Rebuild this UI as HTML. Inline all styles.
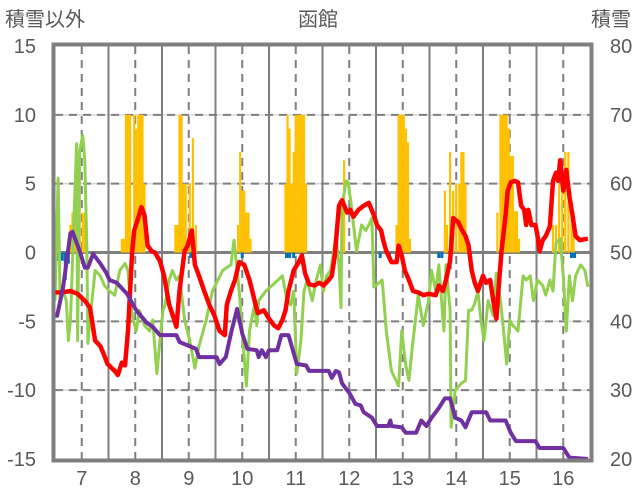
<!DOCTYPE html>
<html><head><meta charset="utf-8"><style>
html,body{margin:0;padding:0;background:#fff;}
svg{display:block;font-family:"Liberation Sans","Noto Sans CJK JP",sans-serif;}
</style></head><body>
<svg id="chart" width="636" height="501" viewBox="0 0 636 501" xmlns="http://www.w3.org/2000/svg">
<g id="grid"></g>
<g id="bars"></g>
<g id="lines"></g>
<g id="axes"></g>
<text x="5" y="26" font-size="20" fill="#595959">積雪以外</text>
<text x="318" y="26" font-size="20" fill="#595959" text-anchor="middle">函館</text>
<text x="631" y="26" font-size="20" fill="#595959" text-anchor="end">積雪</text>
</svg>
<script>
// x values are weeks since start (520 weeks = 10 years, starting mid-year 6)
const leftTicks = [15,10,5,0,-5,-10,-15];
const rightTicks = [80,70,60,50,40,30,20];
const yearLabels = [7,8,9,10,11,12,13,14,15,16];

const redWeeks = [0,7,15,22,29,34,39,44,48,51,58,61,65,68,71,73,75,77,80,84,87,90,94,97,102,106,111,116,118,121,126,129,133,136,140,145,150,155,160,165,167,171,175,179,184,189,194,197,203,208,213,217,221,224,227,232,237,240,243,247,252,257,261,266,269,272,276,279,284,287,290,295,300,305,310,313,317,319,322,327,332,334,337,340,344,348,353,358,363,370,373,377,380,384,387,392,395,399,402,405,408,411,416,419,423,426,429,431,434,438,440,443,447,450,453,456,458,460,463,467,469,471,474,477,481,484,487,489,491,494,497,500,503,506,510,518];
const redValues = [-2.9,-2.9,-2.8,-3.0,-3.5,-4.0,-6.4,-6.8,-7.5,-8.1,-8.6,-8.9,-8.0,-8.2,-5.7,-2.8,0.1,1.6,2.3,3.3,2.7,0.5,0.1,0,-0.6,-1.7,-3.8,-4.9,-5.4,-2.8,0.1,0.5,1.6,-0.9,-1.7,-2.8,-3.8,-4.6,-5.7,-6.0,-3.8,-2.8,-2.0,-0.7,-0.9,-2.0,-3.5,-4.4,-4.2,-4.8,-5.3,-5.5,-4.9,-4.2,-2.8,-1.3,-0.7,-0.2,-1.5,-2.3,-2.4,-2.2,-2.4,-2.0,-1.7,-0.2,3.4,3.8,2.9,3.1,2.6,3.1,3.4,3.6,2.7,2.0,1.6,0.9,0.1,-0.7,-0.7,0.5,-0.2,-1.3,-2.0,-2.8,-2.9,-3.1,-3.0,-3.1,-2.4,-2.8,-2.0,-0.6,2.5,2.2,1.7,1.2,0.5,-1.3,-2.2,-2.8,-1.7,-2.2,-2.0,-3.5,-4.8,-2.8,0.1,2.7,4.5,5.1,5.2,5.1,3.4,3.1,2.0,3.1,2.0,2.0,1.2,0.1,0.9,1.2,1.9,5.2,5.8,5.2,6.7,4.5,6.0,4.1,2.7,1.2,0.9,1.0];

const greenWeeks = [0,3,5,8,11,13,15,16,21,22,24,27,29,31,32,34,39,44,48,53,58,63,68,71,73,76,79,82,87,92,95,99,102,105,107,111,114,118,121,126,131,136,140,147,153,163,171,174,179,186,189,194,196,198,205,211,221,225,229,232,235,239,242,245,250,254,258,261,264,268,273,276,278,279,283,285,288,293,298,302,305,308,310,315,318,322,327,334,337,341,344,347,353,358,363,366,370,373,378,380,384,385,389,395,399,402,405,408,411,414,417,421,426,429,433,436,439,442,445,450,455,458,462,465,469,474,477,481,484,487,491,494,497,500,503,506,511,515,518];
const greenValues = [-3.5,5.4,-3.5,-2.8,-3.5,-6.4,-4.9,-2.8,7.9,-6.4,7.4,8.5,6.7,0.1,-6.6,-4.9,-1.3,-1.7,-2.4,-2.8,-3.1,-1.3,-0.8,-1.3,-3.5,-4.9,-5.7,-4.2,-5.3,-5.7,-4.9,-8.8,-6.4,-4.2,-3.8,-2.0,-1.3,-2.0,-1.7,-4.9,-6.4,-8.4,-6.8,-4.9,-2.8,-1.3,-0.9,0.9,-2.8,-9.7,-5.7,-3.8,-5.3,-3.5,-2.8,-2.4,-1.7,-3.3,-3.8,-2.8,-8.8,-6.4,-2.8,-2.0,-3.5,-2.0,-0.9,-2.8,-1.7,-1.3,1.2,-0.9,-4.0,3.4,5.2,5.1,3.4,0.1,2.0,1.6,2.0,2.5,-2.5,-2.2,-2.0,-5.7,-8.6,-9.7,-5.7,-8.2,-9.3,-7.1,-3.1,-5.3,-3.5,-1.3,-2.8,-0.9,-5.7,-0.9,-4.2,-12.7,-10.0,-9.5,-9.3,-4.2,-4.2,-3.7,-2.8,-4.9,-6.4,-3.5,-4.6,-1.5,-3.5,-5.7,-8.1,-4.9,-5.3,-5.7,-1.7,-2.0,-1.7,-3.5,-2.0,-2.4,-3.1,-2.0,-2.8,0.7,1.0,-1.7,-5.7,-1.7,-3.5,-1.7,-0.9,-1.3,-2.5];

const purpleWeeks = [0,2,8,15,17,24,29,32,37,44,50,53,60,70,79,89,95,102,118,121,137,140,157,160,166,171,177,182,187,196,198,201,205,208,216,220,227,235,244,247,266,269,273,276,279,286,292,297,300,308,313,324,326,327,337,341,351,356,361,366,373,379,384,389,395,399,405,419,423,438,443,448,467,471,494,500,518];
const purpleValues = [-4.6,-4.6,-2.5,1.4,1.5,0.1,-1.1,-1.1,-0.1,-0.8,-1.5,-2.0,-2.2,-3.0,-4.2,-5.1,-5.4,-6.0,-6.0,-6.5,-7.0,-7.6,-7.6,-8.1,-7.6,-5.9,-4.1,-5.9,-7.0,-7.1,-7.6,-7.1,-7.6,-7.1,-7.1,-6.0,-6.0,-8.1,-8.2,-8.6,-8.6,-9.1,-8.6,-8.7,-9.5,-10.2,-11.0,-11.1,-11.6,-12.0,-12.6,-12.6,-12.2,-12.6,-12.7,-13.1,-13.1,-12.2,-12.6,-12.0,-11.3,-10.6,-10.6,-12.0,-12.2,-12.7,-11.6,-11.6,-12.2,-12.2,-13.1,-13.7,-13.7,-14.2,-14.2,-14.9,-15.0];

const snowWeeks = [15,17,19,22,24,27,29,65,67,69,71,73,77,79,81,83,85,87,89,117,119,121,123,125,127,129,131,134,137,178,180,182,184,186,188,190,224,226,228,230,232,234,236,238,240,242,244,281,332,334,336,337,339,341,343,345,379,381,384,387,390,393,395,397,399,401,430,433,435,437,439,441,443,445,447,449,451,484,487,490,493,496,499,502,504];
const snowValues = [2.0,2.9,2.9,7.0,7.0,2.9,2.9,1.0,1.0,10,10,10,10,9,10,10,10,5,0,2,2,10,10,5,5,0.5,5,8.3,2,2,7.3,4.5,4.5,2.9,2.9,1.0,5,10,9,5,7.3,10,10,10,10,10,5,6.7,2,10,10,10,10,9,8,1,4.5,2,7.3,4.5,5,5,7.3,7.3,5,0.8,2.9,10,10,10,10,9,7,7,3,3,1,2,2,5,6,7.3,7.3,2.9,2.9];
const blueWeeks = [3,7,10,13,132,182,225,228,232,316,325,373,376,384,502,505];
const blueValues = [-0.6,-0.6,-2.0,-0.8,-0.4,-0.4,-0.4,-0.4,-0.4,-0.4,-0.4,-0.4,-0.4,-1.2,-0.4,-0.4];

const X0=55, X1=590, Y0=46, Y1=459;
function xs(w){return X0 + w*(X1-X0)/520;}
function ys(v){return Y0 + (15 - v)*(Y1-Y0)/30;}
function ysR(v){return Y0 + (80 - v)*(Y1-Y0)/60;}
const NS='http://www.w3.org/2000/svg';
function mk(tag, attrs, parent){const e=document.createElementNS(NS,tag);for(const k in attrs)e.setAttribute(k,attrs[k]);parent.appendChild(e);return e;}

const grid=document.getElementById('grid');
[10,5,-5,-10].forEach(v=>{
  const l1=mk('line',{x1:X0,x2:X1,y1:ys(v),y2:ys(v),stroke:'#d9d9d9','stroke-width':1.5},grid);
  
  
  const l2=mk('line',{x1:X0,x2:X1,y1:ys(v),y2:ys(v),stroke:'#7f7f7f','stroke-width':2,'stroke-dasharray':'8,6'},grid);
  
  
});
for(let i=0;i<10;i++){
  if(i>0){
    const s=mk('line',{x1:xs(i*52),x2:xs(i*52),y1:Y0,y2:Y1,stroke:'#7f7f7f','stroke-width':2},grid);
    
    
  }
  const d=mk('line',{x1:xs(i*52+26),x2:xs(i*52+26),y1:Y0,y2:Y1,stroke:'#7f7f7f','stroke-width':2,'stroke-dasharray':'8,6'},grid);
  
  
}

const bars=document.getElementById('bars');
snowWeeks.forEach((w,i)=>{
  const v=snowValues[i];
  const r=mk('rect',{x:xs(w)-1.1,y:ys(v),width:2.2,height:ys(0)-ys(v),fill:'#ffc000'},bars);
  
  
});
blueWeeks.forEach((w,i)=>{
  const v=blueValues[i];
  const r=mk('rect',{x:xs(w)-1.5,y:ys(0),width:3,height:ys(v)-ys(0),fill:'#0070c0'},bars);
  
  
});
const zl=mk('line',{x1:X0,x2:X1,y1:ys(0),y2:ys(0),stroke:'#7f7f7f','stroke-width':3},grid);



const lines=document.getElementById('lines');
function path(ws,vs,color,w,name){
  const d=ws.map((x,i)=>(i?'L':'M')+xs(x).toFixed(1)+','+ys(vs[i]).toFixed(1)).join('');
  const p=mk('path',{d:d,fill:'none',stroke:color,'stroke-width':w,'stroke-linejoin':'round'},lines);
  
  
}
path(greenWeeks,greenValues,'#92d050',3,'green-line');
path(redWeeks,redValues,'#ff0000',4.5,'red-line');
path(purpleWeeks,purpleValues,'#7030a0',4,'purple-line');

const axes=document.getElementById('axes');
const fr=mk('rect',{x:X0-1.5,y:Y0-1.5,width:X1-X0+3,height:Y1-Y0+3,fill:'none',stroke:'#7f7f7f','stroke-width':4},axes);


leftTicks.forEach(v=>{
  const t=mk('text',{x:36,y:ys(v)+7,'font-size':20,fill:'#595959','text-anchor':'end'},axes);
  t.textContent=v;
  
  
});
rightTicks.forEach(v=>{
  const t=mk('text',{x:610,y:ysR(v)+7,'font-size':20,fill:'#595959'},axes);
  t.textContent=v;
  
  
});
yearLabels.forEach((y,i)=>{
  const t=mk('text',{x:xs(i*52+26),y:485,'font-size':20,fill:'#595959','text-anchor':'middle'},axes);
  t.textContent=y;
  
  
});
</script>
</body></html>
